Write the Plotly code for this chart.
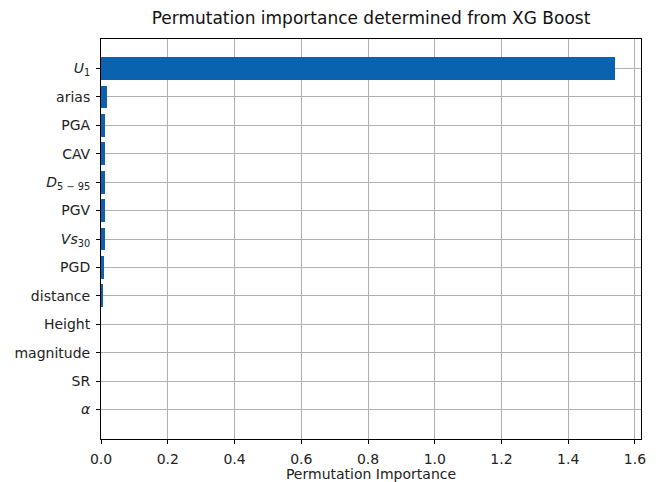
import plotly.graph_objects as go

# Feature names (top to bottom) and their permutation importance
features = [
    "<i>U</i><sub>1</sub>", "arias", "PGA", "CAV", "<i>D</i><sub>5 − 95</sub>",
    "PGV", "<i>Vs</i><sub>30</sub>", "PGD", "distance", "Height",
    "magnitude", "SR", "<i>α</i>",
]
importance = [1.540, 0.018, 0.013, 0.013, 0.013, 0.012, 0.012, 0.009, 0.004,
              0.0, 0.0, 0.0, 0.0]

x_ticks = [0.0, 0.2, 0.4, 0.6, 0.8, 1.0, 1.2, 1.4, 1.6]

font_family = "DejaVu Sans"

fig = go.Figure(
    go.Bar(
        x=importance,
        y=list(range(len(features))),
        orientation="h",
        width=0.8,
        marker=dict(color="#0b63b0", line=dict(width=0)),
    )
)

n = len(features)
fig.update_layout(
    width=662,
    height=482,
    margin=dict(l=101, r=21, t=39, b=43, autoexpand=False),
    paper_bgcolor="white",
    plot_bgcolor="white",
    font=dict(family=font_family, size=14, color="#222222"),
    title=dict(
        text="Permutation importance determined from XG Boost",
        x=(101 + 641) / 2 / 662,
        xanchor="center",
        y=1 - 18 / 482,
        yanchor="middle",
        font=dict(size=17, color="#111111"),
    ),
    showlegend=False,
    bargap=0,
)

fig.update_xaxes(
    range=[0, 1.618],
    tickvals=x_ticks,
    ticktext=[f"{v:.1f}" for v in x_ticks],
    showgrid=True,
    gridcolor="#b0b0b0",
    gridwidth=1,
    showline=True,
    linecolor="black",
    linewidth=1,
    mirror=True,
    ticks="outside",
    ticklen=4,
    tickcolor="black",
    ticklabelstandoff=3,
    zeroline=False,
    automargin=False,
    title=dict(text="Permutation Importance", font=dict(size=14), standoff=3),
)

fig.update_yaxes(
    range=[n - 1 + 1.04, -1.04],
    tickvals=list(range(n)),
    ticktext=features,
    showgrid=True,
    gridcolor="#b0b0b0",
    gridwidth=1,
    showline=True,
    linecolor="black",
    linewidth=1,
    mirror=True,
    ticks="outside",
    ticklen=4,
    tickcolor="black",
    ticklabelstandoff=3,
    zeroline=False,
    automargin=False,
)

fig.write_html("out.html")
